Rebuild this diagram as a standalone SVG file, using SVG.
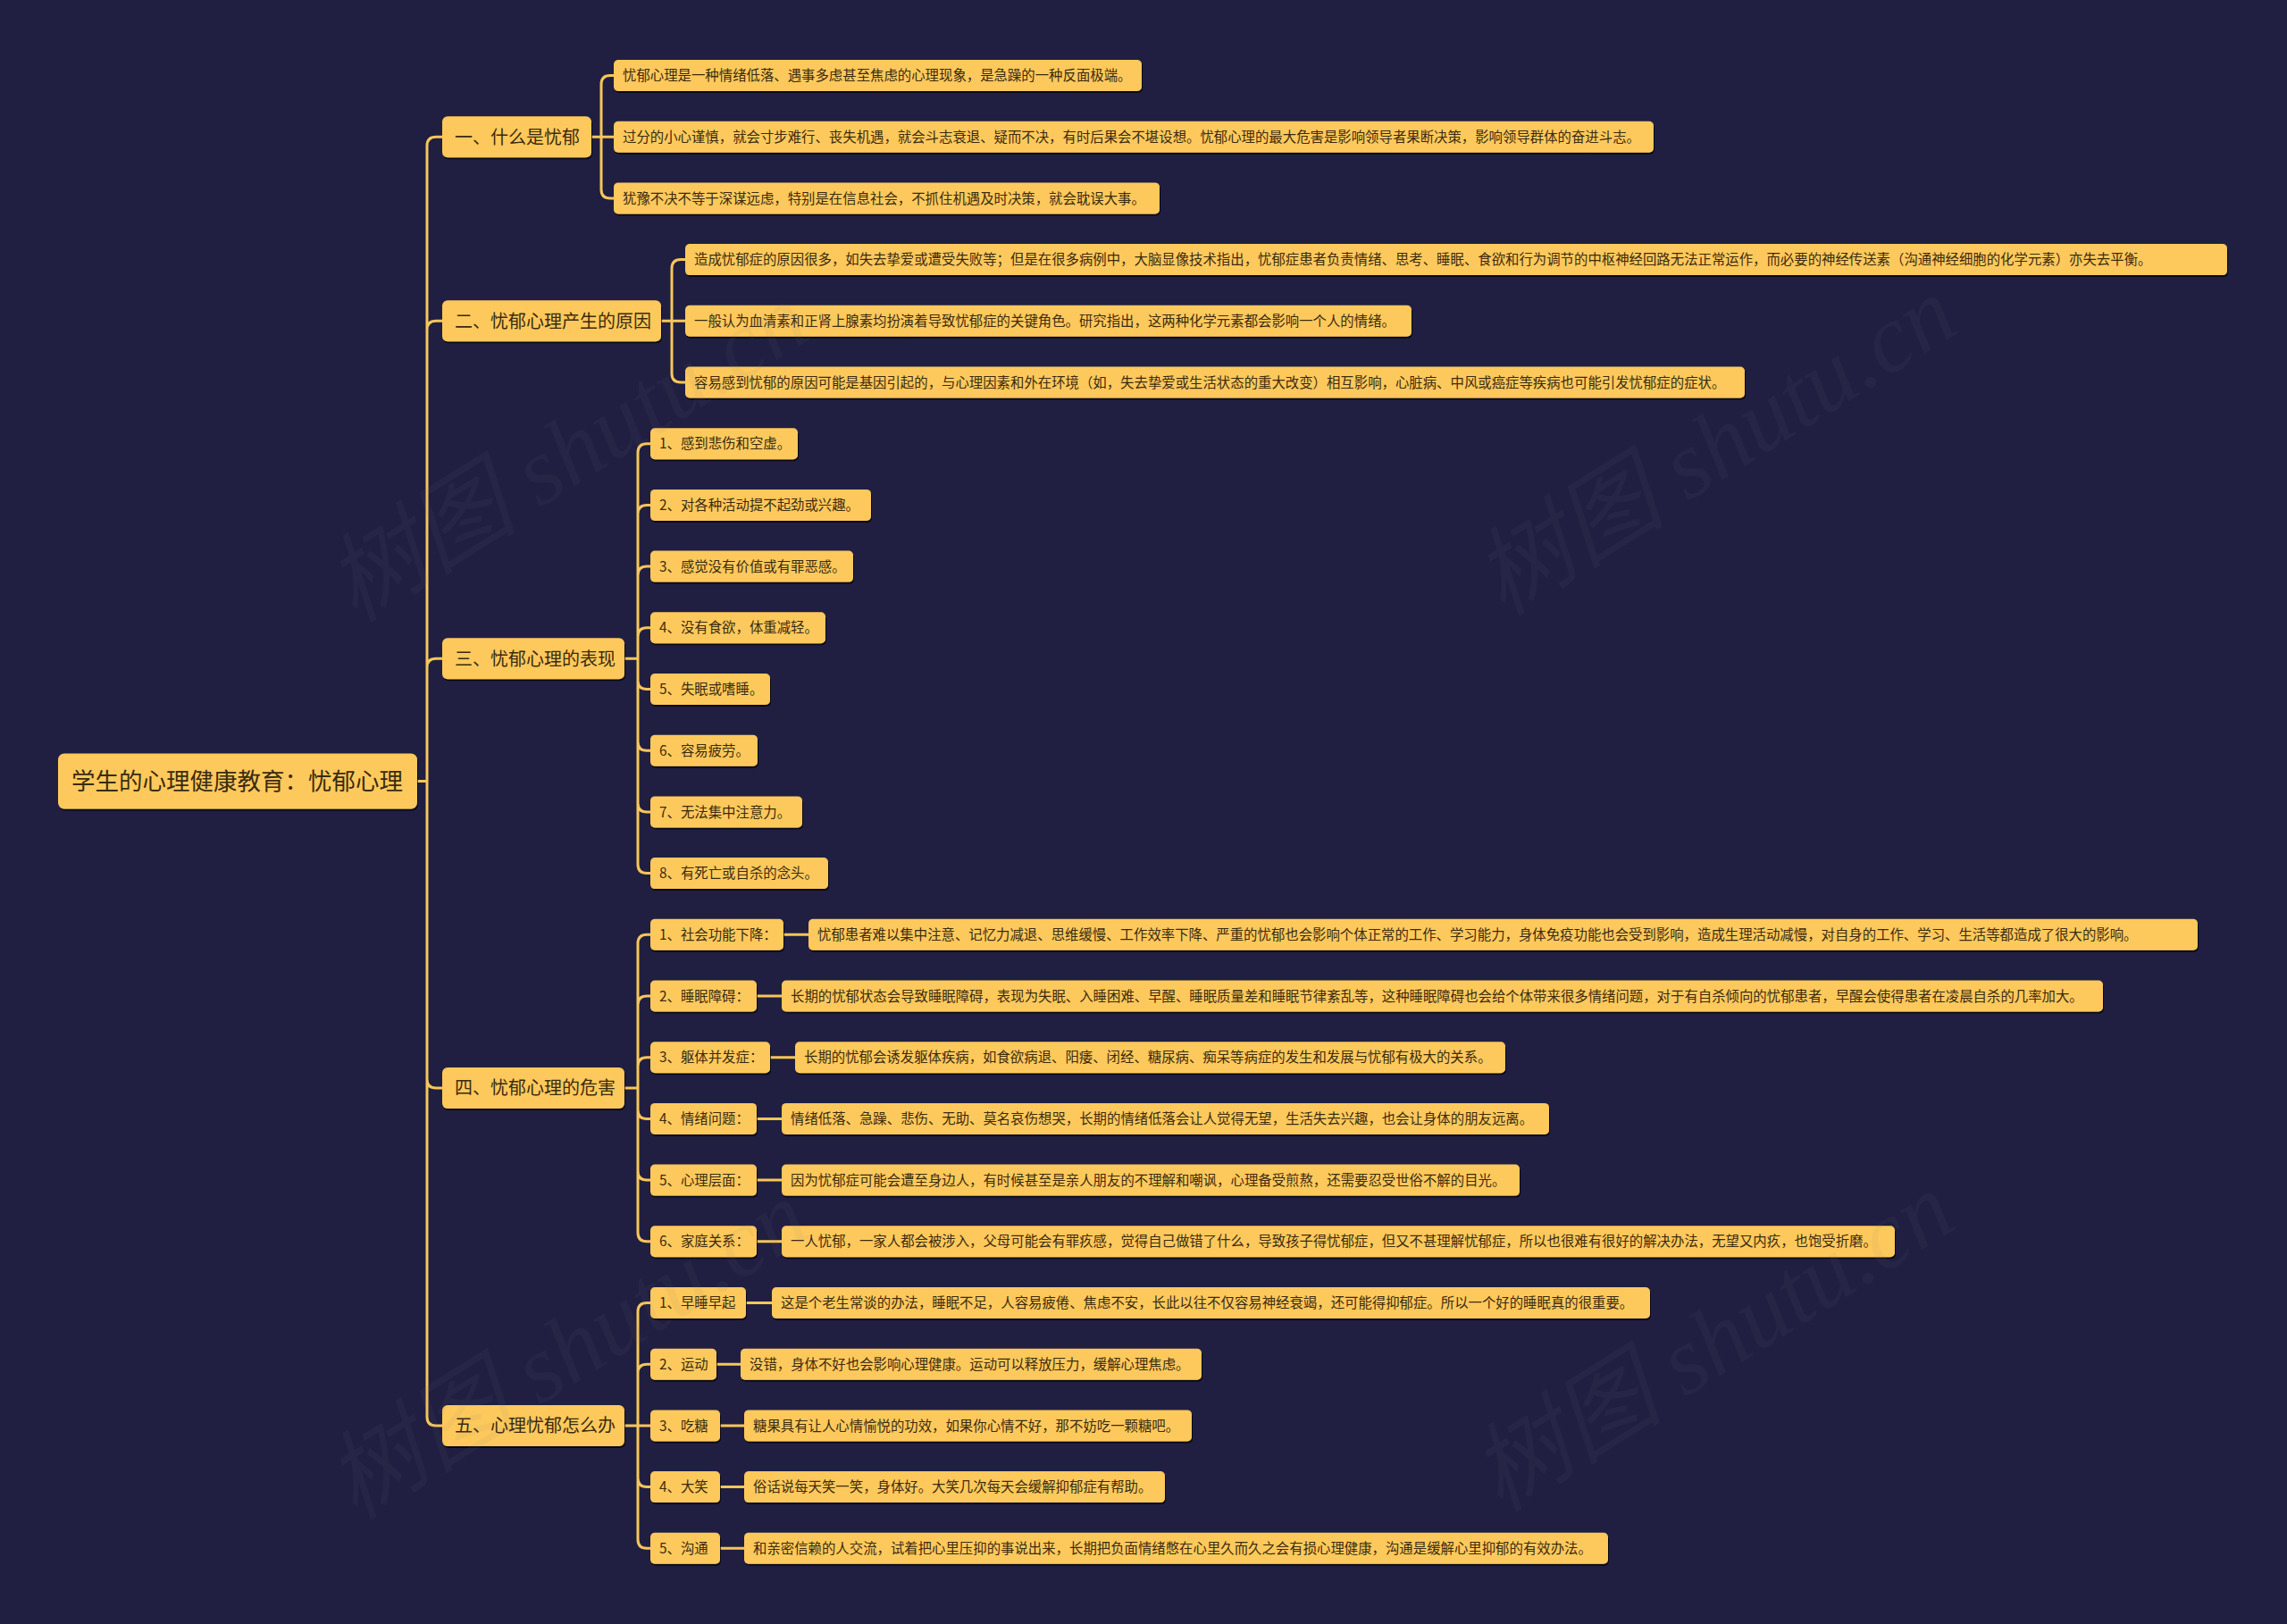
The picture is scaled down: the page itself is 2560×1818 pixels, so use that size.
<svg xmlns="http://www.w3.org/2000/svg" width="2560" height="1818" viewBox="0 0 2560 1818">
<defs>
<filter id="sh" x="-5%" y="-20%" width="110%" height="150%">
<feDropShadow dx="1" dy="2" stdDeviation="0.6" flood-color="#000000" flood-opacity="0.7"/>
</filter>
<style>
.n rect{fill:#fec95b;filter:url(#sh)}
.n text{fill:#3b2b0e;font-family:"Noto Sans CJK SC","Noto Sans",sans-serif}
.l0 text{font-size:26.5px}
.l1 text{font-size:20px}
.l2 text{font-size:15.4px}
.c path{stroke:#f7c65a;stroke-width:3;fill:none;stroke-linecap:round;stroke-linejoin:round}
.wm{fill:#808080;fill-opacity:0.07;font-family:"Liberation Serif","Noto Sans CJK SC",serif;font-size:108px;font-style:italic}
</style>
</defs>
<rect width="2560" height="1818" fill="#201f42"/>

<g id="connectors" class="c">
<path d="M467,874.5 H478 M478,874.5 V163.2 Q478,153.2 488,153.2 H495 M478,874.5 V369.3 Q478,359.3 488,359.3 H495 M478,874.5 V747.15 Q478,737.15 488,737.15 H495 M478,874.5 V1208.05 Q478,1218.05 488,1218.05 H495 M478,874.5 V1585.9 Q478,1595.9 488,1595.9 H495"/>
<path d="M662,153.2 H687 M673,153.2 V94.5 Q673,84.5 683,84.5 H687 M673,153.2 V211.9 Q673,221.9 683,221.9 H687"/>
<path d="M740,359.3 H767 M752,359.3 V300.6 Q752,290.6 762,290.6 H767 M752,359.3 V418 Q752,428 762,428 H767"/>
<path d="M699,737.15 H714 M714,737.15 V506.7 Q714,496.7 724,496.7 H728 M714,737.15 V575.4 Q714,565.4 724,565.4 H728 M714,737.15 V644.1 Q714,634.1 724,634.1 H728 M714,737.15 V712.8 Q714,702.8 724,702.8 H728 M714,737.15 V761.5 Q714,771.5 724,771.5 H728 M714,737.15 V830.2 Q714,840.2 724,840.2 H728 M714,737.15 V898.9 Q714,908.9 724,908.9 H728 M714,737.15 V967.6 Q714,977.6 724,977.6 H728"/>
<path d="M699,1218.05 H714 M714,1218.05 V1056.3 Q714,1046.3 724,1046.3 H728 M714,1218.05 V1125 Q714,1115 724,1115 H728 M714,1218.05 V1193.7 Q714,1183.7 724,1183.7 H728 M714,1218.05 V1242.4 Q714,1252.4 724,1252.4 H728 M714,1218.05 V1311.1 Q714,1321.1 724,1321.1 H728 M714,1218.05 V1379.8 Q714,1389.8 724,1389.8 H728"/>
<path d="M877,1046.3 H905 M847,1115 H875 M862,1183.7 H890 M847,1252.4 H875 M847,1321.1 H875 M847,1389.8 H875"/>
<path d="M699,1595.9 H728 M714,1595.9 V1468.5 Q714,1458.5 724,1458.5 H728 M714,1595.9 V1537.2 Q714,1527.2 724,1527.2 H728 M714,1595.9 V1654.6 Q714,1664.6 724,1664.6 H728 M714,1595.9 V1723.3 Q714,1733.3 724,1733.3 H728"/>
<path d="M835,1458.5 H864 M802,1527.2 H829 M806,1595.9 H833 M806,1664.6 H833 M806,1733.3 H833"/>
</g>

<g id="root" class="n l0"><rect x="65" y="843.5" width="402" height="62" rx="7"/><text x="80" y="874.5" dy="0.37em">学生的心理健康教育：忧郁心理</text></g>

<g id="s1" class="n l1"><rect x="495" y="130.2" width="167" height="46" rx="6"/><text x="509" y="153.2" dy="0.37em">一、什么是忧郁</text></g>
<g id="s2" class="n l1"><rect x="495" y="336.3" width="245" height="46" rx="6"/><text x="509" y="359.3" dy="0.37em">二、忧郁心理产生的原因</text></g>
<g id="s3" class="n l1"><rect x="495" y="714.15" width="204" height="46" rx="6"/><text x="509" y="737.15" dy="0.37em">三、忧郁心理的表现</text></g>
<g id="s4" class="n l1"><rect x="495" y="1195.05" width="204" height="46" rx="6"/><text x="509" y="1218.05" dy="0.37em">四、忧郁心理的危害</text></g>
<g id="s5" class="n l1"><rect x="495" y="1572.9" width="204" height="46" rx="6"/><text x="509" y="1595.9" dy="0.37em">五、心理忧郁怎么办</text></g>

<g id="s1-1" class="n l2"><rect x="687" y="67" width="591" height="35" rx="5"/><text x="697" y="84.5" dy="0.37em">忧郁心理是一种情绪低落、遇事多虑甚至焦虑的心理现象，是急躁的一种反面极端。</text></g>
<g id="s1-2" class="n l2"><rect x="687" y="135.7" width="1164" height="35" rx="5"/><text x="697" y="153.2" dy="0.37em">过分的小心谨慎，就会寸步难行、丧失机遇，就会斗志衰退、疑而不决，有时后果会不堪设想。忧郁心理的最大危害是影响领导者果断决策，影响领导群体的奋进斗志。</text></g>
<g id="s1-3" class="n l2"><rect x="687" y="204.4" width="611" height="35" rx="5"/><text x="697" y="221.9" dy="0.37em">犹豫不决不等于深谋远虑，特别是在信息社会，不抓住机遇及时决策，就会耽误大事。</text></g>

<g id="s2-1" class="n l2"><rect x="767" y="273.1" width="1726" height="35" rx="5"/><text x="777" y="290.6" dy="0.37em">造成忧郁症的原因很多，如失去挚爱或遭受失败等；但是在很多病例中，大脑显像技术指出，忧郁症患者负责情绪、思考、睡眠、食欲和行为调节的中枢神经回路无法正常运作，而必要的神经传送素（沟通神经细胞的化学元素）亦失去平衡。</text></g>
<g id="s2-2" class="n l2"><rect x="767" y="341.8" width="813" height="35" rx="5"/><text x="777" y="359.3" dy="0.37em">一般认为血清素和正肾上腺素均扮演着导致忧郁症的关键角色。研究指出，这两种化学元素都会影响一个人的情绪。</text></g>
<g id="s2-3" class="n l2"><rect x="767" y="410.5" width="1186" height="35" rx="5"/><text x="777" y="428" dy="0.37em">容易感到忧郁的原因可能是基因引起的，与心理因素和外在环境（如，失去挚爱或生活状态的重大改变）相互影响，心脏病、中风或癌症等疾病也可能引发忧郁症的症状。</text></g>

<g id="s3-1" class="n l2"><rect x="728" y="479.2" width="165" height="35" rx="5"/><text x="738" y="496.7" dy="0.37em">1、感到悲伤和空虚。</text></g>
<g id="s3-2" class="n l2"><rect x="728" y="547.9" width="247" height="35" rx="5"/><text x="738" y="565.4" dy="0.37em">2、对各种活动提不起劲或兴趣。</text></g>
<g id="s3-3" class="n l2"><rect x="728" y="616.6" width="227" height="35" rx="5"/><text x="738" y="634.1" dy="0.37em">3、感觉没有价值或有罪恶感。</text></g>
<g id="s3-4" class="n l2"><rect x="728" y="685.3" width="196" height="35" rx="5"/><text x="738" y="702.8" dy="0.37em">4、没有食欲，体重减轻。</text></g>
<g id="s3-5" class="n l2"><rect x="728" y="754" width="134" height="35" rx="5"/><text x="738" y="771.5" dy="0.37em">5、失眠或嗜睡。</text></g>
<g id="s3-6" class="n l2"><rect x="728" y="822.7" width="120" height="35" rx="5"/><text x="738" y="840.2" dy="0.37em">6、容易疲劳。</text></g>
<g id="s3-7" class="n l2"><rect x="728" y="891.4" width="170" height="35" rx="5"/><text x="738" y="908.9" dy="0.37em">7、无法集中注意力。</text></g>
<g id="s3-8" class="n l2"><rect x="728" y="960.1" width="199" height="35" rx="5"/><text x="738" y="977.6" dy="0.37em">8、有死亡或自杀的念头。</text></g>

<g id="s4-1" class="n l2"><rect x="728" y="1028.8" width="149" height="35" rx="5"/><text x="738" y="1046.3" dy="0.37em">1、社会功能下降：</text></g>
<g id="s4-1d" class="n l2"><rect x="905" y="1028.8" width="1555" height="35" rx="5"/><text x="915" y="1046.3" dy="0.37em">忧郁患者难以集中注意、记忆力减退、思维缓慢、工作效率下降、严重的忧郁也会影响个体正常的工作、学习能力，身体免疫功能也会受到影响，造成生理活动减慢，对自身的工作、学习、生活等都造成了很大的影响。</text></g>
<g id="s4-2" class="n l2"><rect x="728" y="1097.5" width="119" height="35" rx="5"/><text x="738" y="1115" dy="0.37em">2、睡眠障碍：</text></g>
<g id="s4-2d" class="n l2"><rect x="875" y="1097.5" width="1479" height="35" rx="5"/><text x="885" y="1115" dy="0.37em">长期的忧郁状态会导致睡眠障碍，表现为失眠、入睡困难、早醒、睡眠质量差和睡眠节律紊乱等，这种睡眠障碍也会给个体带来很多情绪问题，对于有自杀倾向的忧郁患者，早醒会使得患者在凌晨自杀的几率加大。</text></g>
<g id="s4-3" class="n l2"><rect x="728" y="1166.2" width="134" height="35" rx="5"/><text x="738" y="1183.7" dy="0.37em">3、躯体并发症：</text></g>
<g id="s4-3d" class="n l2"><rect x="890" y="1166.2" width="795" height="35" rx="5"/><text x="900" y="1183.7" dy="0.37em">长期的忧郁会诱发躯体疾病，如食欲病退、阳痿、闭经、糖尿病、痴呆等病症的发生和发展与忧郁有极大的关系。</text></g>
<g id="s4-4" class="n l2"><rect x="728" y="1234.9" width="119" height="35" rx="5"/><text x="738" y="1252.4" dy="0.37em">4、情绪问题：</text></g>
<g id="s4-4d" class="n l2"><rect x="875" y="1234.9" width="859" height="35" rx="5"/><text x="885" y="1252.4" dy="0.37em">情绪低落、急躁、悲伤、无助、莫名哀伤想哭，长期的情绪低落会让人觉得无望，生活失去兴趣，也会让身体的朋友远离。</text></g>
<g id="s4-5" class="n l2"><rect x="728" y="1303.6" width="119" height="35" rx="5"/><text x="738" y="1321.1" dy="0.37em">5、心理层面：</text></g>
<g id="s4-5d" class="n l2"><rect x="875" y="1303.6" width="826" height="35" rx="5"/><text x="885" y="1321.1" dy="0.37em">因为忧郁症可能会遭至身边人，有时候甚至是亲人朋友的不理解和嘲讽，心理备受煎熬，还需要忍受世俗不解的目光。</text></g>
<g id="s4-6" class="n l2"><rect x="728" y="1372.3" width="119" height="35" rx="5"/><text x="738" y="1389.8" dy="0.37em">6、家庭关系：</text></g>
<g id="s4-6d" class="n l2"><rect x="875" y="1372.3" width="1246" height="35" rx="5"/><text x="885" y="1389.8" dy="0.37em">一人忧郁，一家人都会被涉入，父母可能会有罪疚感，觉得自己做错了什么，导致孩子得忧郁症，但又不甚理解忧郁症，所以也很难有很好的解决办法，无望又内疚，也饱受折磨。</text></g>

<g id="s5-1" class="n l2"><rect x="728" y="1441" width="107" height="35" rx="5"/><text x="738" y="1458.5" dy="0.37em">1、早睡早起</text></g>
<g id="s5-1d" class="n l2"><rect x="864" y="1441" width="983" height="35" rx="5"/><text x="874" y="1458.5" dy="0.37em">这是个老生常谈的办法，睡眠不足，人容易疲倦、焦虑不安，长此以往不仅容易神经衰竭，还可能得抑郁症。所以一个好的睡眠真的很重要。</text></g>
<g id="s5-2" class="n l2"><rect x="728" y="1509.7" width="74" height="35" rx="5"/><text x="738" y="1527.2" dy="0.37em">2、运动</text></g>
<g id="s5-2d" class="n l2"><rect x="829" y="1509.7" width="516" height="35" rx="5"/><text x="839" y="1527.2" dy="0.37em">没错，身体不好也会影响心理健康。运动可以释放压力，缓解心理焦虑。</text></g>
<g id="s5-3" class="n l2"><rect x="728" y="1578.4" width="78" height="35" rx="5"/><text x="738" y="1595.9" dy="0.37em">3、吃糖</text></g>
<g id="s5-3d" class="n l2"><rect x="833" y="1578.4" width="501" height="35" rx="5"/><text x="843" y="1595.9" dy="0.37em">糖果具有让人心情愉悦的功效，如果你心情不好，那不妨吃一颗糖吧。</text></g>
<g id="s5-4" class="n l2"><rect x="728" y="1647.1" width="78" height="35" rx="5"/><text x="738" y="1664.6" dy="0.37em">4、大笑</text></g>
<g id="s5-4d" class="n l2"><rect x="833" y="1647.1" width="471" height="35" rx="5"/><text x="843" y="1664.6" dy="0.37em">俗话说每天笑一笑，身体好。大笑几次每天会缓解抑郁症有帮助。</text></g>
<g id="s5-5" class="n l2"><rect x="728" y="1715.8" width="78" height="35" rx="5"/><text x="738" y="1733.3" dy="0.37em">5、沟通</text></g>
<g id="s5-5d" class="n l2"><rect x="833" y="1715.8" width="967" height="35" rx="5"/><text x="843" y="1733.3" dy="0.37em">和亲密信赖的人交流，试着把心里压抑的事说出来，长期把负面情绪憋在心里久而久之会有损心理健康，沟通是缓解心里抑郁的有效办法。</text></g>

<g id="watermark">
<text class="wm" x="645" y="540" text-anchor="middle" transform="rotate(-32 645 522)">树图 shutu.cn</text>
<text class="wm" x="1930" y="533" text-anchor="middle" transform="rotate(-32 1930 515)">树图 shutu.cn</text>
<text class="wm" x="645" y="1545" text-anchor="middle" transform="rotate(-32 645 1527)">树图 shutu.cn</text>
<text class="wm" x="1927" y="1536" text-anchor="middle" transform="rotate(-32 1927 1518)">树图 shutu.cn</text>
</g>
</svg>
